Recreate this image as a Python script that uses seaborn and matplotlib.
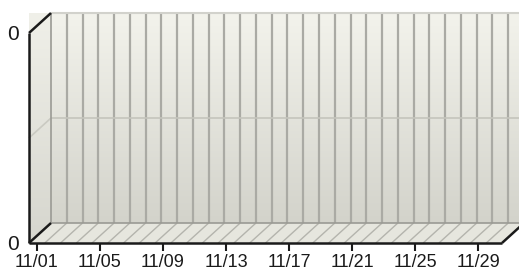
import numpy as np
import seaborn as sns
import matplotlib.pyplot as plt
from matplotlib.lines import Line2D
from matplotlib.patches import Polygon
from matplotlib.colors import LinearSegmentedColormap

# Data (every day of the month is zero)
days = ["11/01", "11/02", "11/03", "11/04", "11/05", "11/06", "11/07", "11/08",
        "11/09", "11/10", "11/11", "11/12", "11/13", "11/14", "11/15", "11/16",
        "11/17", "11/18", "11/19", "11/20", "11/21", "11/22", "11/23", "11/24",
        "11/25", "11/26", "11/27", "11/28", "11/29", "11/30"]
values = [0, 0, 0, 0, 0, 0, 0, 0, 0, 0, 0, 0, 0, 0, 0,
          0, 0, 0, 0, 0, 0, 0, 0, 0, 0, 0, 0, 0, 0, 0]
x_tick_labels = ["11/01", "11/05", "11/09", "11/13", "11/17", "11/21", "11/25", "11/29"]
y_tick_labels = ["0", "0"]

sns.set_style("white")
plt.rcParams["font.family"] = ["Liberation Sans Narrow", "Liberation Sans", "DejaVu Sans"]

W, H = 519, 275
DX, DY = 22, 20  # depth of the 3D frame in pixels

fig = plt.figure(figsize=(W / 100, H / 100), dpi=100)
ax = fig.add_axes([29 / W, (H - 243) / H, (502 - 29) / W, (243 - 33) / H])

sns.barplot(x=days, y=values, color="#7aa0c8", ax=ax)

n = len(days)
x0, x1 = -0.5, n - 0.5
ax.set_xlim(x0, x1)
ax.set_ylim(0, 1)

to_fig = fig.transFigure.inverted()


def pt(x, y, back=False):
    p = ax.transData.transform((x, y))
    if back:
        p = p + np.array([DX, DY])
    return to_fig.transform(p)


def seg(a, b, **kw):
    ax.add_line(Line2D([a[0], b[0]], [a[1], b[1]], transform=fig.transFigure,
                       clip_on=False, solid_capstyle="butt", **kw))


def gradient(poly, top, bottom, z):
    cmap = LinearSegmentedColormap.from_list("g", [bottom, top])
    xs = [p[0] for p in poly]
    ys = [p[1] for p in poly]
    grad = np.linspace(0, 1, 256).reshape(-1, 1)
    im = ax.imshow(grad, cmap=cmap, origin="lower", aspect="auto",
                   extent=[min(xs), max(xs), min(ys), max(ys)],
                   transform=fig.transFigure, clip_on=False, zorder=z)
    patch = Polygon(poly, closed=True, transform=fig.transFigure)
    im.set_clip_path(patch)


# back wall
back = [pt(x0, 0, True), pt(x1, 0, True), pt(x1, 1, True), pt(x0, 1, True)]
gradient(back, "#f3f3ec", "#d3d3cb", 0.1)
# left wall
left = [pt(x0, 0), pt(x0, 0, True), pt(x0, 1, True), pt(x0, 1)]
gradient(left, "#f0f0e9", "#d6d6ce", 0.1)
# floor
floor = [pt(x0, 0), pt(x1, 0), pt(x1, 0, True), pt(x0, 0, True)]
ax.add_patch(Polygon(floor, closed=True, transform=fig.transFigure,
                     facecolor="#e6e6de", edgecolor="none", clip_on=False, zorder=0.2))

# grid on back wall and floor, category boundaries
for k in range(1, n):
    xb = k - 0.5
    seg(pt(xb, 0, True), pt(xb, 1, True), color="#aaaaa4", lw=1.6, zorder=0.3)
    seg(pt(xb, 0), pt(xb, 0, True), color="#b4b4ad", lw=1.0, zorder=0.3)
# middle gridline
seg(pt(x0, 0.5, True), pt(x1, 0.5, True), color="#c4c4bc", lw=1.2, zorder=0.3)
seg(pt(x0, 0.5), pt(x0, 0.5, True), color="#cacac2", lw=1.2, zorder=0.3)

# back wall edges
seg(pt(x0, 1, True), pt(x1, 1, True), color="#d2d2cc", lw=1.5, zorder=0.4)
seg(pt(x0, 0, True), pt(x0, 1, True), color="#9a9a94", lw=1.2, zorder=0.4)
seg(pt(x0, 0, True), pt(x1, 0, True), color="#9a9a94", lw=1.2, zorder=0.4)

# black frame
seg(pt(x0, 0), pt(x0, 1), color="#1a1a1a", lw=1.8, zorder=3)
seg(pt(x0, 1), pt(x0, 1, True), color="#1a1a1a", lw=1.8, zorder=3)
seg(pt(x0, 0), pt(x1, 0), color="#1a1a1a", lw=1.8, zorder=3)
seg(pt(x0, 0), pt(x0, 0, True), color="#1a1a1a", lw=1.8, zorder=3)
seg(pt(x1, 0), pt(x1, 0, True), color="#1a1a1a", lw=1.8, zorder=3)

ax.set_xlim(x0, x1)
ax.set_ylim(0, 1)
ax.patch.set_visible(False)
for s in ax.spines.values():
    s.set_visible(False)

ax.set_xticks(range(0, n, 4))
ax.set_xticklabels(x_tick_labels, fontsize=13, color="#1a1a1a")
ax.set_yticks([0, 1])
ax.set_yticklabels(y_tick_labels, fontsize=15, color="#1a1a1a")
ax.tick_params(axis="x", length=6, width=1.5, color="#1a1a1a", pad=2, bottom=True)
ax.tick_params(axis="y", length=0, pad=7)
ax.set_xlabel("")
ax.set_ylabel("")

fig.savefig("out.png", dpi=100)
